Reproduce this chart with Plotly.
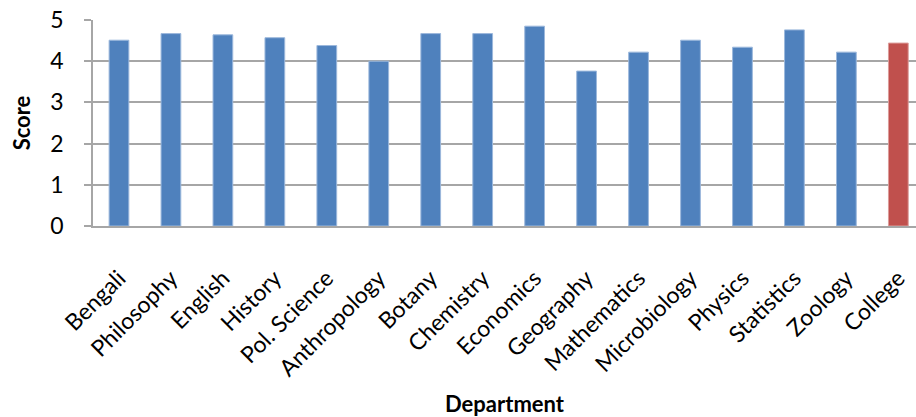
import plotly.graph_objects as go

departments = ["Bengali", "Philosophy", "English", "History", "Pol. Science", "Anthropology",
               "Botany", "Chemistry", "Economics", "Geography", "Mathematics", "Microbiology",
               "Physics", "Statistics", "Zoology", "College"]
scores = [4.51, 4.67, 4.64, 4.57, 4.38, 4.00, 4.67, 4.67, 4.85, 3.76, 4.22, 4.51, 4.34, 4.76, 4.22, 4.44]
bar_colors = ["#4f81bd"] * 15 + ["#c0504d"]
line_colors = ["#9cb8dc"] * 15 + ["#dc9c9a"]

fig = go.Figure(go.Bar(
    x=departments, y=scores,
    marker=dict(color=bar_colors, line=dict(color=line_colors, width=1)),
    width=0.38,
))

fig.update_layout(
    width=916, height=417,
    margin=dict(l=93, r=0, t=20, b=191),
    plot_bgcolor="white", paper_bgcolor="white",
    font=dict(family="Lato, Open Sans, sans-serif", color="black"),
    showlegend=False,
    xaxis=dict(
        range=[-0.5, 15.34],
        automargin=False,
        tickangle=-45,
        tickfont=dict(size=23),
        ticklabeloverflow="allow",
        showline=True, linecolor="#a6a6a6", linewidth=1.5,
        ticks="outside", ticklen=28, tickcolor="rgba(0,0,0,0)",
        showgrid=False,
        title=dict(text="<b>Department</b>", font=dict(size=22), standoff=16),
    ),
    yaxis=dict(
        range=[0, 5], dtick=1,
        automargin=False,
        tickfont=dict(size=23),
        ticklabelstandoff=16,
        ticklabeloverflow="allow",
        showgrid=True, gridcolor="#a6a6a6", gridwidth=1.5,
        showline=True, linecolor="#a6a6a6", linewidth=1.5,
        ticks="outside", ticklen=7, tickcolor="#a6a6a6", tickwidth=1.5,
        zeroline=False,
        title=dict(text="<b>Score</b>", font=dict(size=22), standoff=14),
    ),
)

fig.write_html("out.html", config={"displayModeBar": False},
               post_script="document.body.style.margin='0';document.body.style.overflow='hidden';")
